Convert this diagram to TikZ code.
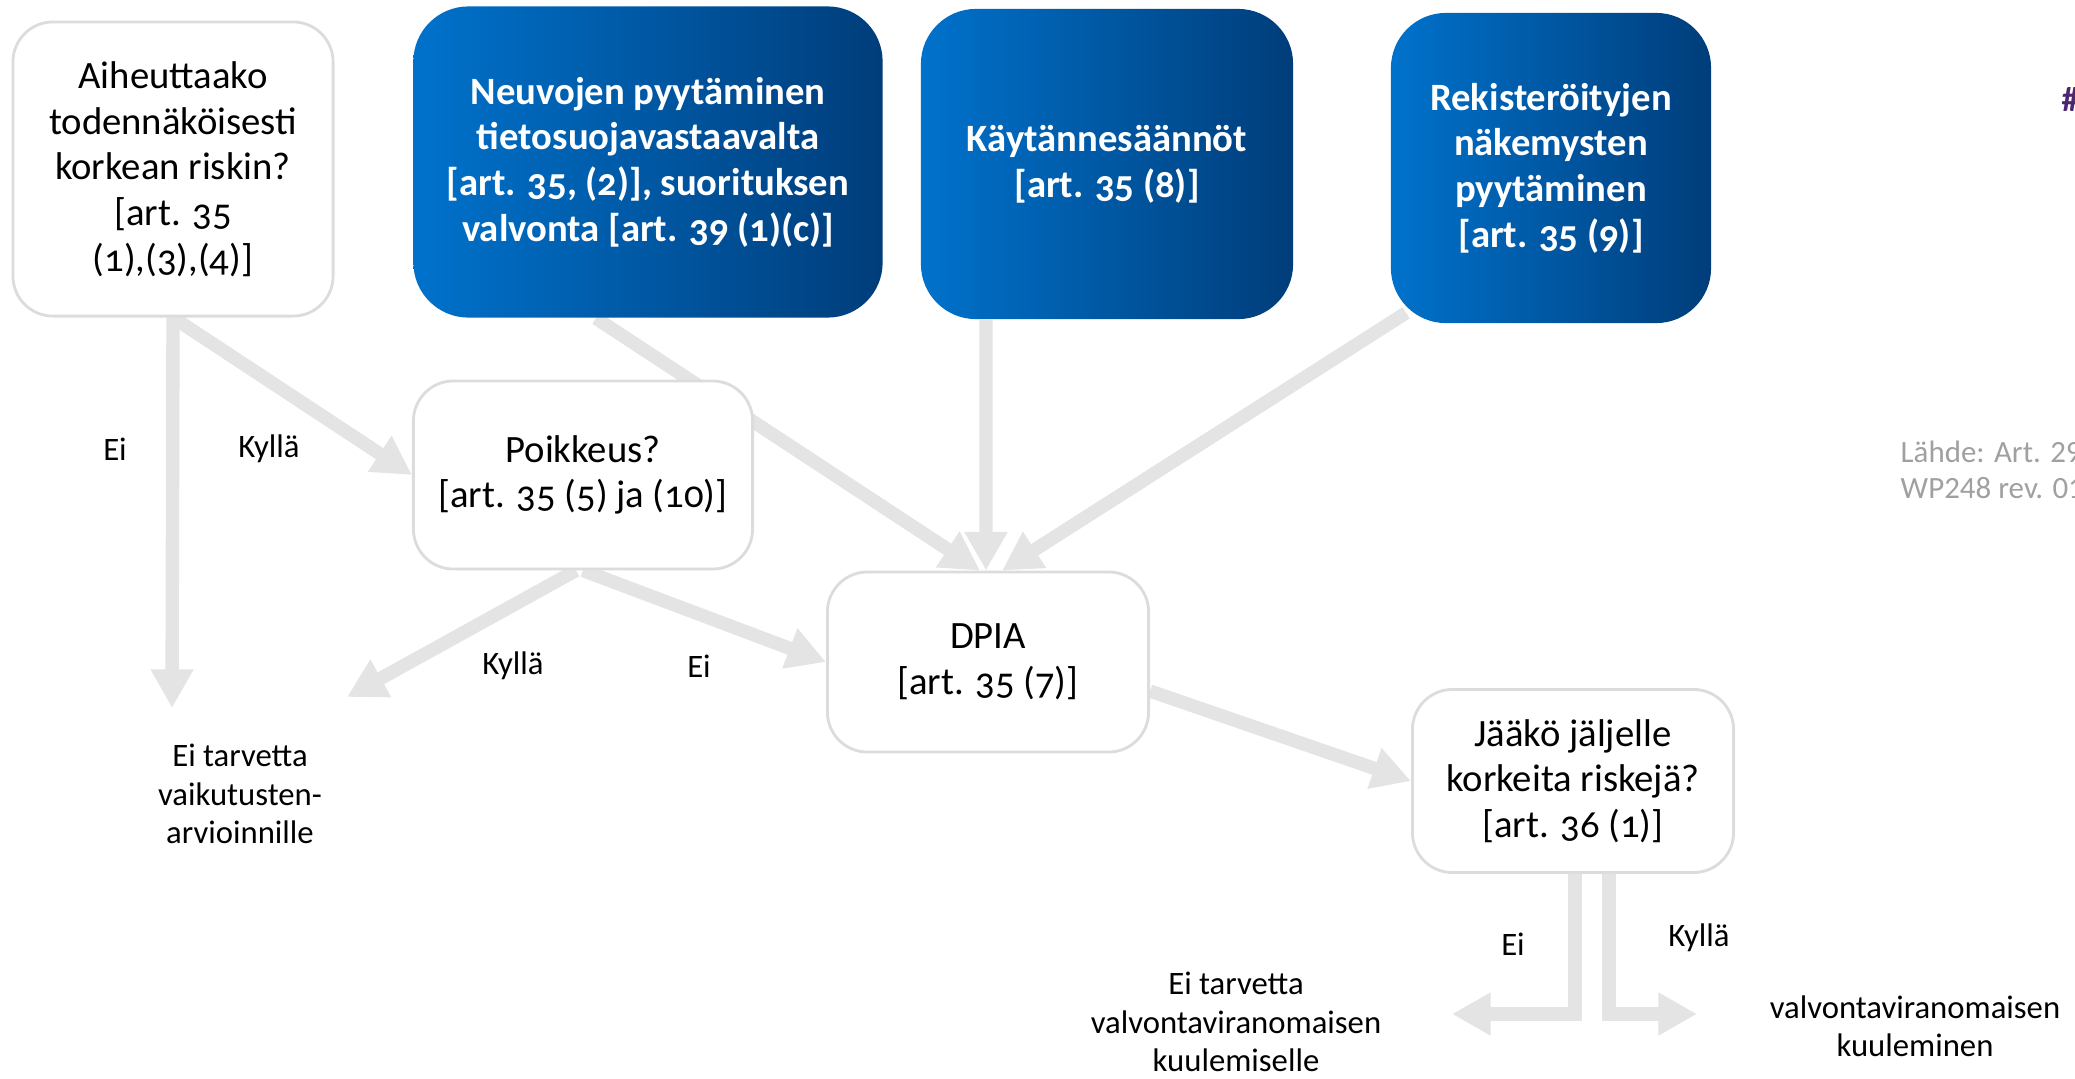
\documentclass[tikz,border=0pt]{standalone}
\usepackage{fontspec}
\setmainfont{Carlito}
\newfontfamily\boxfont{Carlito}[Numbers=OldStyle]
\usetikzlibrary{positioning,arrows.meta}
\definecolor{flowgray}{RGB}{228,228,228}
\definecolor{edgegray}{RGB}{220,220,220}
\definecolor{dpblue}{RGB}{0,114,204}
\definecolor{dpnavy}{RGB}{0,61,122}
\definecolor{notegray}{RGB}{160,160,160}
\definecolor{hashpurple}{RGB}{76,38,112}
\pgfdeclarelayer{bg}
\pgfsetlayers{bg,main}

\begin{document}
\begin{tikzpicture}[x=0.01cm, y=-0.01cm,
  qbox/.style={rectangle, rounded corners=0.4cm, draw=edgegray, line width=0.8pt, fill=white, align=center, inner sep=0pt, font=\boxfont\fontsize{11}{13}\selectfont},
  bluebox/.style={rectangle, rounded corners=0.55cm, left color=dpblue, right color=dpnavy, text=white, align=center, inner sep=0pt, font=\boxfont\bfseries\fontsize{11}{13}\selectfont},
  lbl/.style={align=center, font=\fontsize{9.3}{10.9}\selectfont},
  flow/.style={draw=flowgray, line width=3.8pt, -{Triangle[length=11pt,width=11.5pt]}}]
\useasboundingbox (0,0) rectangle (2075,1078);

% Question
\node (risk) [qbox, minimum width=3.2cm, minimum height=2.94cm] at (173,169) {Aiheuttaako\\todennäköisesti\\korkean riskin?\\{[}art. 35\\(1),(3),(4)]};

% Blue inputs
\node (advice) [bluebox, minimum width=4.69cm, minimum height=3.11cm] at (648,162) {Neuvojen pyytäminen\\tietosuojavastaavalta\\{[}art. 35, (2)], suorituksen\\valvonta [art. 39 (1)(c)]};
\node (codes) [bluebox, minimum width=3.72cm, minimum height=3.1cm] at (1107,164) {Käytännesäännöt\\{[}art. 35 (8)]};
\node (views) [bluebox, minimum width=3.2cm, minimum height=3.1cm] at (1551,168) {Rekisteröityjen\\näkemysten\\pyytäminen\\{[}art. 35 (9)]};

% Exception
\node (except) [qbox, minimum width=3.39cm, minimum height=1.88cm] at (583,475) {Poikkeus?\\{[}art. 35 (5) ja (10)]};

% DPIA
\node (dpia) [qbox, minimum width=3.21cm, minimum height=1.8cm] at (988,662) {DPIA\\{[}art. 35 (7)]};

% Residual risk
\node (resid) [qbox, minimum width=3.21cm, minimum height=1.83cm] at (1573,781) {Jääkö jäljelle\\korkeita riskejä?\\{[}art. 36 (1)]};

% Outcomes
\node (noneed) [lbl] at (240,794) {Ei tarvetta\\vaikutusten-\\arvioinnille};
\node (noconsult) [lbl] at (1236,1022) {Ei tarvetta\\valvontaviranomaisen\\kuulemiselle};
\node (consult) [lbl] at (1915,1026) {valvontaviranomaisen\\kuuleminen};

% Branch labels
\node (no1) [lbl] at (115,449) {Ei};
\node (yes1) [lbl] at (269,449) {Kyllä};
\node (yes2) [lbl] at (513,666) {Kyllä};
\node (no2) [lbl] at (699,666) {Ei};
\node (no3) [lbl] at (1513,944) {Ei};
\node (yes3) [lbl] at (1699,938) {Kyllä};

% Side notes
\node (source) [anchor=west, align=left, inner sep=0pt, text=notegray, font=\fontsize{8.8}{10.2}\selectfont] at (1900,470) {Lähde: Art. 29\\WP248 rev. 01};
\node (hash) [anchor=west, inner sep=0pt, text=hashpurple, font=\bfseries\fontsize{10}{12}\selectfont] at (2061,99) {\#};

% Arrow ends
\coordinate (noneedtip) at (172,708);
\coordinate (yestip) at (347,697);
\coordinate (noconsulttip) at (1452,1014);
\coordinate (consulttip) at (1697,1014);

% Arrows
\begin{pgfonlayer}{bg}
\draw[flow] (risk.south) -- (noneedtip);
\draw[flow] (risk.south) -- (except.west);
\draw[flow] ([xshift=-0.52cm]advice.south) -- ([xshift=-0.08cm]dpia.north);
\draw[flow] ([xshift=-1.21cm]codes.south) -- ([xshift=-0.02cm]dpia.north);
\draw[flow] ([shift={(0.16cm,0.11cm)}]views.south west) -- ([xshift=0.14cm]dpia.north);
\draw[flow] ([xshift=-0.07cm]except.south) -- (yestip);
\draw[flow] (except.south) -- (dpia.west);
\draw[flow] ([yshift=-0.29cm]dpia.east) -- (resid.west);
\draw[flow] ([xshift=0.02cm]resid.south) |- (noconsulttip);
\draw[flow] ([xshift=0.36cm]resid.south) |- (consulttip);
\end{pgfonlayer}
\end{tikzpicture}
\end{document}
